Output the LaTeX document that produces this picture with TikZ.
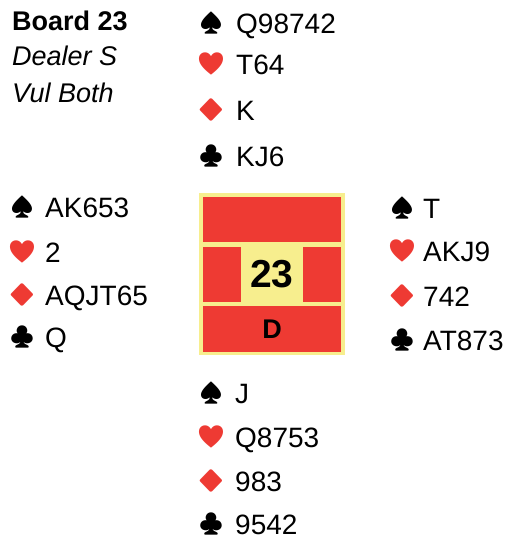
\documentclass[tikz,border=0pt]{standalone}
\usepackage{fontspec}
\setmainfont{Liberation Sans}
\newfontfamily\suitfont{Noto Emoji}
\definecolor{boardred}{RGB}{238,58,51}
\definecolor{boardyellow}{RGB}{247,238,142}
\tikzset{
  cards/.style={anchor=base west, inner sep=0pt, font=\fontsize{28}{28}\selectfont},
  suit/.style={anchor=center, inner sep=0pt, font=\suitfont\fontsize{22}{22}\selectfont},
}
\begin{document}
\begin{tikzpicture}[x=1pt,y=-1pt]
\useasboundingbox (0,0) rectangle (511,539);
% board info
\node[cards, font=\fontsize{27}{27}\selectfont\bfseries] (board) at (12,30) {Board 23};
\node[cards, font=\fontsize{27}{27}\selectfont\itshape] (dealer) at (12,65) {Dealer S};
\node[cards, font=\fontsize{27}{27}\selectfont\itshape] (vul) at (12,102) {Vul Both};
% north
\foreach \y/\s/\w/\col/\txt [count=\i] in {33/♠/1/black/Q98742, 74/♥/1/boardred/T64, 120/♦/1.35/boardred/K, 166/♣/1/black/KJ6} {
  \node[suit, text=\col] (northsuit\i) at (211,\y-10) {\scalebox{\w}[1]{\s}};
  \node[cards] (north\i) at (236,\y) {\txt};
}
% west
\foreach \y/\s/\w/\col/\txt [count=\i] in {217/♠/1/black/AK653, 262/♥/1/boardred/2, 305/♦/1.35/boardred/AQJT65, 347/♣/1/black/Q} {
  \node[suit, text=\col] (westsuit\i) at (22,\y-10) {\scalebox{\w}[1]{\s}};
  \node[cards] (west\i) at (45,\y) {\txt};
}
% east
\foreach \y/\s/\w/\col/\txt [count=\i] in {218/♠/1/black/T, 261/♥/1/boardred/AKJ9, 306/♦/1.35/boardred/742, 350/♣/1/black/AT873} {
  \node[suit, text=\col] (eastsuit\i) at (402,\y-10) {\scalebox{\w}[1]{\s}};
  \node[cards] (east\i) at (423,\y) {\txt};
}
% south
\foreach \y/\s/\w/\col/\txt [count=\i] in {403/♠/1/black/J, 447/♥/1/boardred/Q8753, 491/♦/1.35/boardred/983, 534/♣/1/black/9542} {
  \node[suit, text=\col] (southsuit\i) at (211,\y-10) {\scalebox{\w}[1]{\s}};
  \node[cards] (south\i) at (235,\y) {\txt};
}
% board
\fill[boardyellow] (199,193) rectangle (345,355);
\fill[boardred] (203,197) rectangle (341,242);
\fill[boardred] (203,247) rectangle (241,302);
\fill[boardred] (303,247) rectangle (341,302);
\fill[boardred] (203,306) rectangle (341,352);
\node[font=\fontsize{39}{39}\selectfont\bfseries] (number) at (272,274) {23};
\node[font=\fontsize{27}{27}\selectfont\bfseries] (dealermark) at (272,329) {D};
\end{tikzpicture}
\end{document}
